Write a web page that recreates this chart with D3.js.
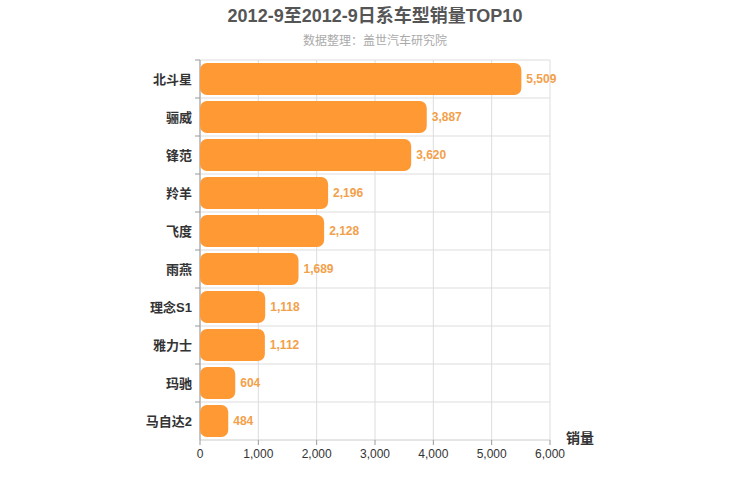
<!DOCTYPE html><html><head><meta charset="utf-8"><script src="https://d3js.org/d3.v7.min.js"></script>
<style>body{margin:0;background:#fff}text{font-family:"Liberation Sans","Noto Sans CJK SC",sans-serif}</style></head><body>
<svg id="c" width="750" height="500"></svg>
<script>
const categories=["北斗星","骊威","锋范","羚羊","飞度","雨燕","理念S1","雅力士","玛驰","马自达2"];
const values=[5509,3887,3620,2196,2128,1689,1118,1112,604,484];
const xTicks=[0,1000,2000,3000,4000,5000,6000];
const svg=d3.select("#c");
const L=200,R=550,T=60,B=440;
const x=d3.scaleLinear().domain([0,6000]).range([L,R]);
const y=d3.scaleBand().domain(categories).range([T,B]).paddingInner(0.16).paddingOuter(0.08);
const yb=d3.scaleBand().domain(categories).range([T,B]);
const g=svg.append("g");
xTicks.forEach(t=>g.append("line").attr("x1",x(t)).attr("x2",x(t)).attr("y1",T).attr("y2",B).attr("stroke","#ddd"));
categories.forEach(c=>g.append("line").attr("x1",L).attr("x2",R).attr("y1",yb(c)).attr("y2",yb(c)).attr("stroke","#ddd"));
g.append("line").attr("x1",L).attr("x2",R).attr("y1",B).attr("y2",B).attr("stroke","#ccc");
g.append("line").attr("x1",L).attr("x2",L).attr("y1",T).attr("y2",B).attr("stroke","#999");
categories.forEach((c,i)=>{
 g.append("rect").attr("x",x(0)).attr("y",y(c)).attr("width",x(values[i])-x(0)).attr("height",y.bandwidth()).attr("rx",7).attr("fill","#ff9933");
 g.append("text").attr("x",x(values[i])+5).attr("y",y(c)+y.bandwidth()/2+4).attr("font-size",12).attr("font-weight","bold").attr("fill","#f3a04a").text(d3.format(",")(values[i]));
 g.append("text").attr("x",L-8).attr("y",yb(c)+yb.bandwidth()/2+5).attr("text-anchor","end").attr("font-size",13).attr("font-weight","bold").attr("fill","#333").text(c);
 g.append("line").attr("x1",L-5).attr("x2",L).attr("y1",yb(c)).attr("y2",yb(c)).attr("stroke","#999");
});
xTicks.forEach(t=>{
 g.append("line").attr("x1",x(t)).attr("x2",x(t)).attr("y1",B).attr("y2",B+5).attr("stroke","#999");
 g.append("text").attr("x",x(t)).attr("y",B+18).attr("text-anchor","middle").attr("font-size",12).attr("fill","#333").text(d3.format(",")(t));
});
svg.append("text").attr("x",580).attr("y",443).attr("text-anchor","middle").attr("font-size",14).attr("font-weight","bold").attr("fill","#333").text("销量");
svg.append("text").attr("x",375).attr("y",22).attr("text-anchor","middle").attr("font-size",18).attr("font-weight","bold").attr("fill","#555").text("2012-9至2012-9日系车型销量TOP10");
svg.append("text").attr("x",375).attr("y",45).attr("text-anchor","middle").attr("font-size",12).attr("fill","#aaa").text("数据整理：盖世汽车研究院");
</script></body></html>
